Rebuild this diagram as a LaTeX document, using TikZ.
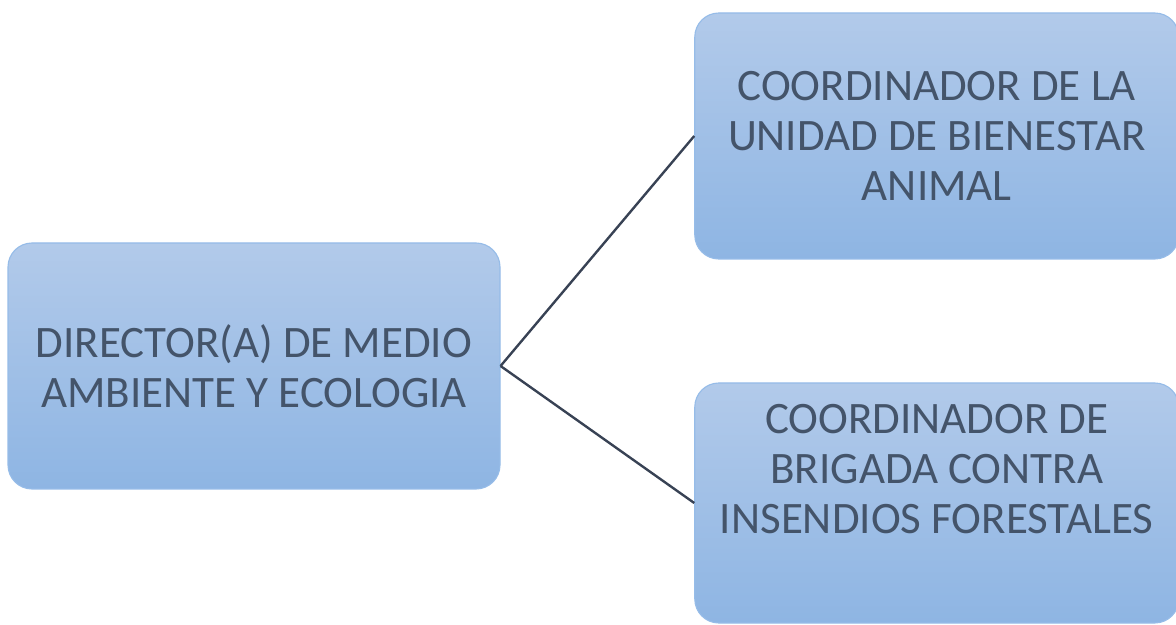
\documentclass[tikz,border=0pt]{standalone}
\usepackage{fontspec}
\setmainfont{Carlito}
\usepackage{xcolor}
\usepackage{tikz}
\usetikzlibrary{positioning}
\definecolor{boxtop}{RGB}{178,202,234}
\definecolor{boxbot}{RGB}{142,181,227}
\definecolor{boxedge}{RGB}{150,188,232}
\definecolor{slate}{RGB}{68,84,106}
\definecolor{linkc}{RGB}{56,66,84}

\begin{document}
\begin{tikzpicture}[
  every node/.style={font=\fontsize{32pt}{35.6pt}\selectfont, text=slate},
  orgbox/.style={draw=boxedge, line width=0.8pt, rounded corners=0.6cm, top color=boxtop, bottom color=boxbot, align=center, inner sep=0pt},
  link/.style={draw=linkc, line width=1.7pt}
]
\useasboundingbox (0,0) rectangle (29.4,-15.625);
\node[orgbox, minimum width=12.3cm, minimum height=6.15cm] (dir) at (6.35,-9.15) {DIRECTOR(A) DE MEDIO\\AMBIENTE Y ECOLOGIA};
\node[orgbox, minimum width=12.1cm, minimum height=6.15cm] (bien) at (23.42,-3.4) {COORDINADOR DE LA\\UNIDAD DE BIENESTAR\\ANIMAL};
\node[orgbox, minimum width=12.1cm, minimum height=6cm, text depth=1.7cm] (brig) at (23.42,-12.575) {COORDINADOR DE\\BRIGADA CONTRA\\INSENDIOS FORESTALES};
\draw[link] (dir.east) -- (bien.west);
\draw[link] (dir.east) -- (brig.west);
\end{tikzpicture}
\end{document}
